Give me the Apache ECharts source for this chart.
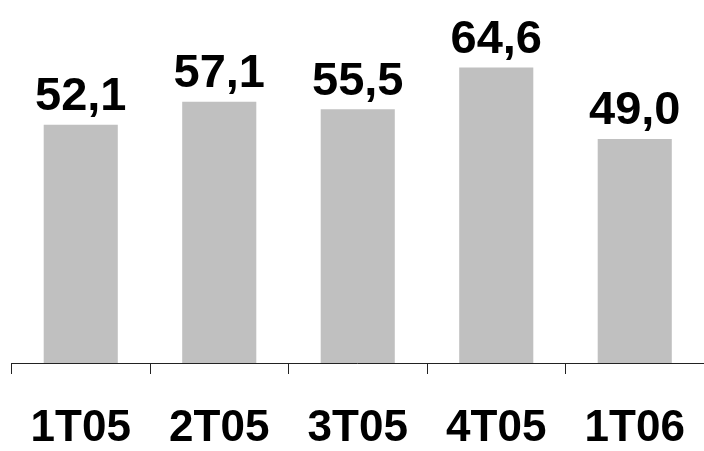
<!DOCTYPE html>
<html>
<head>
<meta charset="utf-8">
<script src="https://cdn.jsdelivr.net/npm/echarts@6/dist/echarts.min.js"></script>
<style>
  html, body { margin: 0; padding: 0; background: #fff; }
  #chart { width: 704px; height: 451px; }
</style>
</head>
<body>
<div id="chart"></div>
<script>
// Quarterly values
const quarters = ['1T05', '2T05', '3T05', '4T05', '1T06'];
const values = [52.1, 57.1, 55.5, 64.6, 49.0];

const chart = echarts.init(document.getElementById('chart'), null, { renderer: 'canvas' });

const fmt = v => v.toFixed(1).replace('.', ',');

chart.setOption({
  animation: false,
  grid: { left: 11.5, right: -5, top: 20, bottom: 82, containLabel: false },
  xAxis: {
    type: 'category',
    data: quarters,
    boundaryGap: true,
    axisLine: { show: true, lineStyle: { color: '#222', width: 1 } },
    axisTick: { show: true, length: 11, alignWithLabel: false, lineStyle: { color: '#222' } },
    axisLabel: {
      margin: 44,
      color: '#000',
      fontFamily: 'Liberation Sans, Arial, sans-serif',
      fontWeight: 'bold',
      fontSize: 44
    }
  },
  yAxis: {
    type: 'value',
    min: 0,
    max: 75,
    show: false,
    splitLine: { show: false }
  },
  series: [{
    type: 'bar',
    data: values,
    barWidth: '53.5%',
    itemStyle: { color: '#c0c0c0' },
    label: {
      show: true,
      position: 'top',
      distance: 4,
      color: '#000',
      fontFamily: 'Liberation Sans, Arial, sans-serif',
      fontWeight: 'bold',
      fontSize: 47,
      formatter: p => fmt(p.value)
    }
  }]
});
</script>
</body>
</html>
